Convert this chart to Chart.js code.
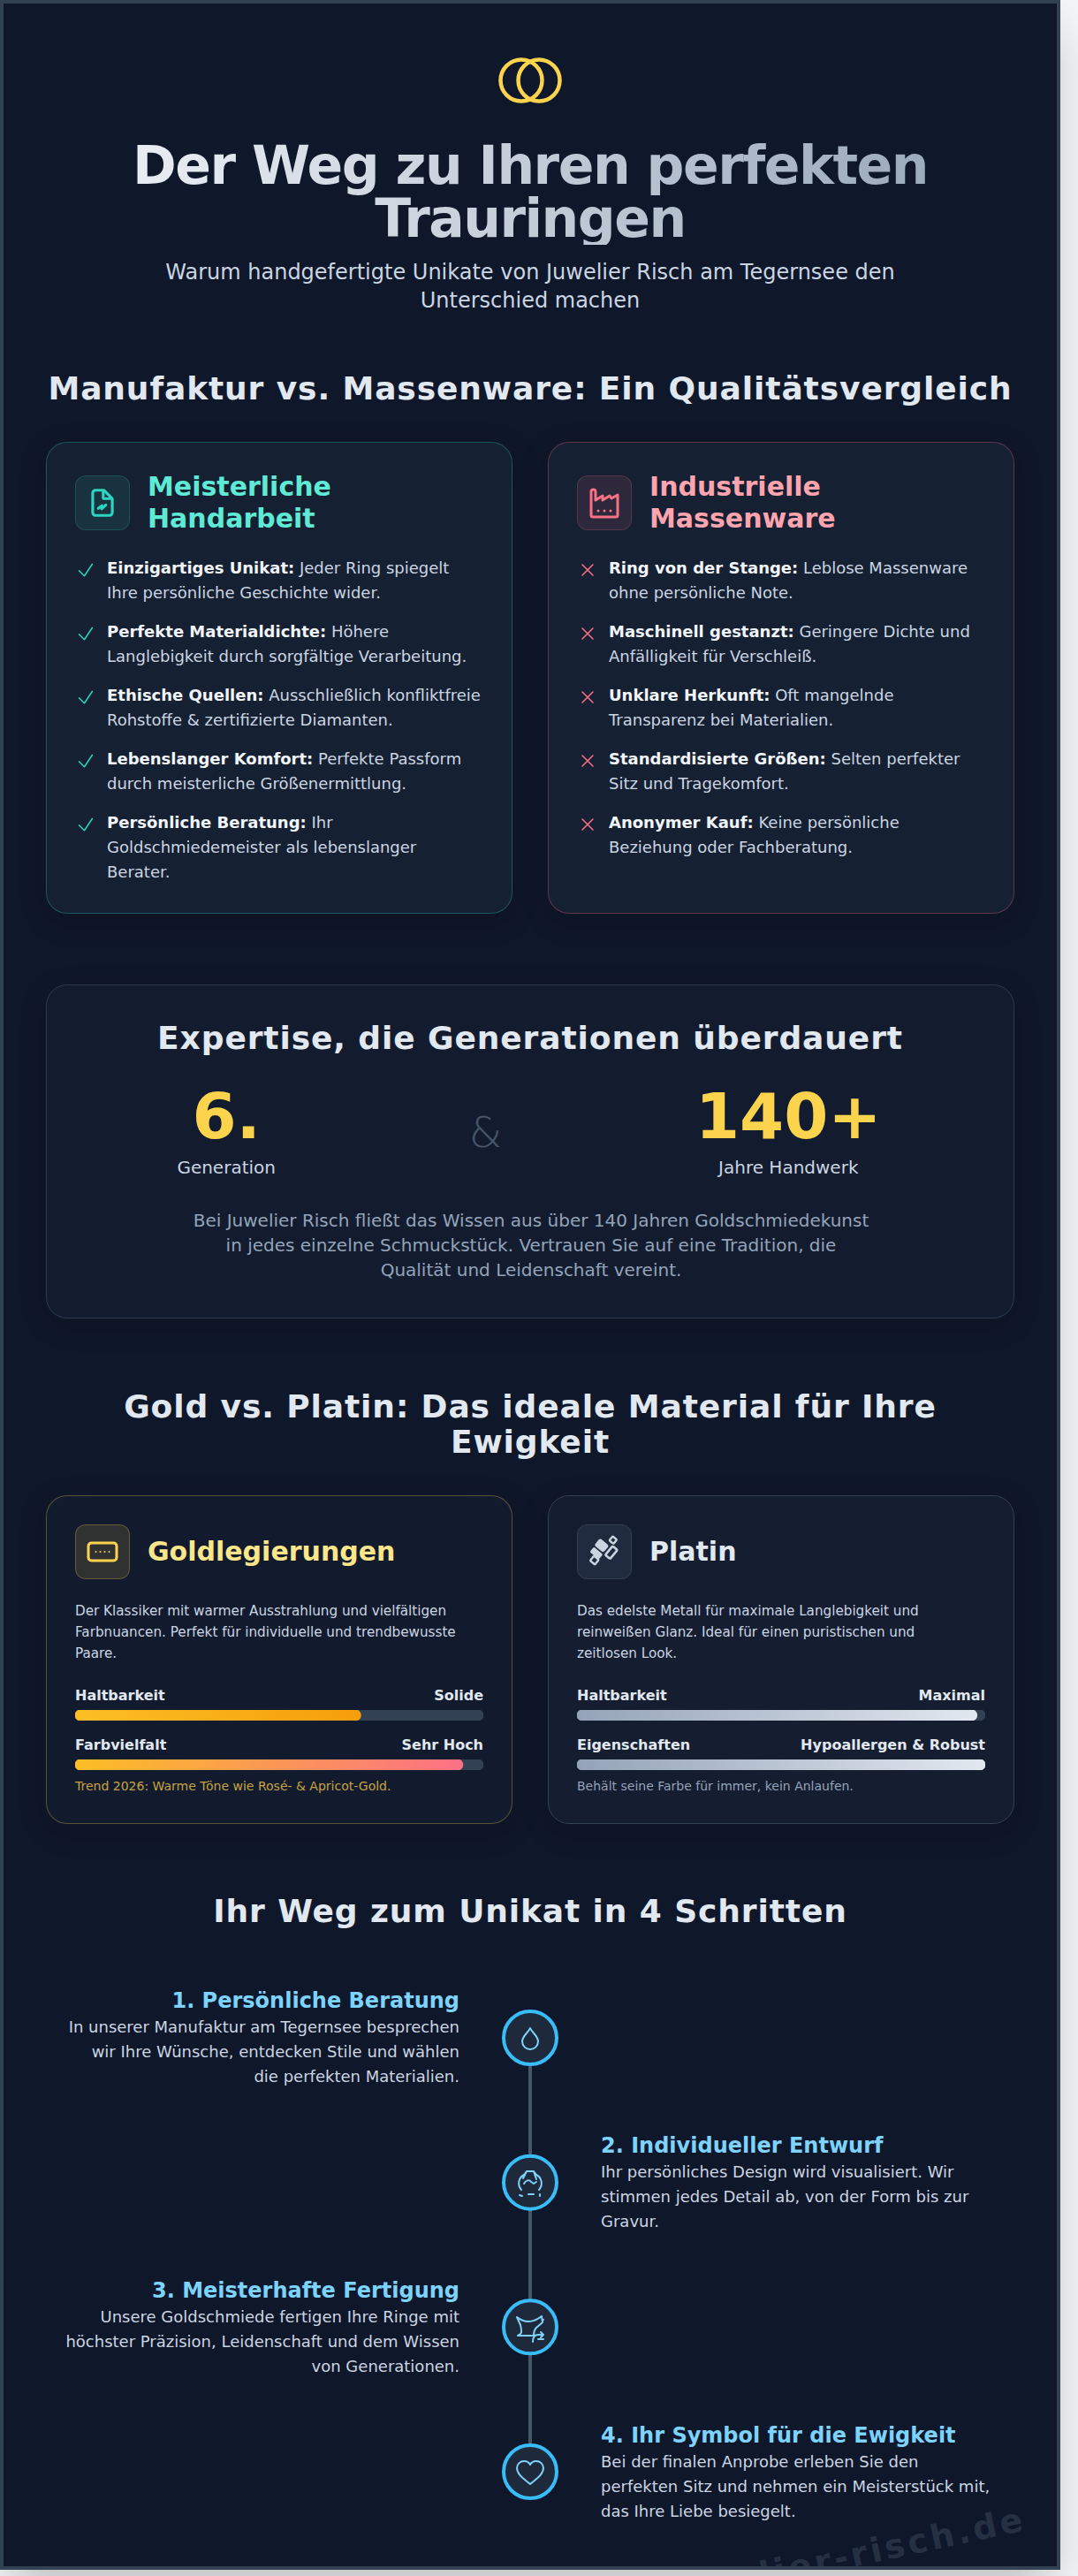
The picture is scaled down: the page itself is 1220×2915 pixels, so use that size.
<!DOCTYPE html>
<html lang="de"><head><meta charset="utf-8"><title>Der Weg zu Ihren perfekten Trauringen</title>
<script src="https://cdn.jsdelivr.net/npm/chart.js@4"></script>
<style>
*{box-sizing:border-box;margin:0;padding:0}
html,body{width:1220px;height:2915px;overflow:hidden;background:#f3f4f6;font-family:"DejaVu Sans",sans-serif}
#page{position:absolute;left:0;top:0;width:1200px;height:2908px;background:#0f172a;border:4px solid #334155;overflow:hidden;box-shadow:0 25px 50px -12px rgba(0,0,0,.25)}
.a{position:absolute;left:48px;width:1096px}
h1{font-size:60px;line-height:60px;font-weight:700;letter-spacing:-1.5px;text-align:center;color:transparent;background:linear-gradient(90deg,#f1f5f9,#94a3b8);-webkit-background-clip:text;background-clip:text}
.sub{font-size:24px;line-height:32px;color:#cbd5e1;text-align:center;width:896px;margin:0 auto}
h2{font-size:36px;line-height:40px;font-weight:700;color:#e2e8f0;text-align:center;letter-spacing:.9px}
.card{position:absolute;width:528px;border-radius:24px;border:1px solid;padding:32px;background:rgba(30,41,59,.5);box-shadow:0 8px 32px rgba(0,0,0,.2)}
.head{display:flex;align-items:center;margin-bottom:24px}
.ic{width:62px;height:62px;flex:none;border-radius:12px;border:1px solid;margin-right:20px;display:flex;align-items:center;justify-content:center}
.head h3{font-size:30px;line-height:36px;font-weight:700}
li{list-style:none;display:flex;font-size:18px;line-height:28px;color:#cbd5e1;margin-bottom:16px}
li svg{width:24px;height:24px;flex:none;margin:4px 12px 0 0;fill:none;stroke-width:1.5}
li b{color:#f1f5f9;font-weight:700}
.para{font-size:15.2px;line-height:24px;color:#cbd5e1;width:453.5px}
.rate{display:flex;justify-content:space-between;font-size:16px;line-height:24px;font-weight:700;color:#e2e8f0;margin-bottom:4px}
.bar{height:12px;width:462px;position:relative;margin-bottom:16px}
.note{font-size:14px;line-height:20px;margin-top:-8px}
.st{position:absolute;width:448px}
.st h4{font-size:24px;line-height:32px;font-weight:700;color:#7dd3fc}
.st p{font-size:18px;line-height:28px;color:#cbd5e1}
.nd{position:absolute;width:36px;height:36px;left:578px;fill:none;stroke:#7dd3fc;stroke-width:2;stroke-linecap:round;stroke-linejoin:round}
#wm{position:absolute;right:36px;top:2824px;font-size:38px;font-weight:700;letter-spacing:3.8px;color:rgba(71,85,105,.42);transform:rotate(-12deg);transform-origin:100% 50%;white-space:nowrap;line-height:44px}
</style></head><body>
<div id="page">
<svg class="a" style="left:548px;top:57px;width:96px;height:60px" viewBox="0 0 96 60" fill="none" stroke="#fcd34d" stroke-width="4.5"><circle cx="38" cy="30" r="23.5"/><circle cx="58" cy="30" r="23.5"/></svg>
<h1 class="a" style="top:153px">Der Weg zu Ihren perfekten Trauringen</h1>
<div class="a" style="top:288px"><div class="sub">Warum handgefertigte Unikate von Juwelier Risch am Tegernsee den Unterschied machen</div></div>
<h2 class="a" style="top:416px">Manufaktur vs. Massenware: Ein Qualitätsvergleich</h2>

<div class="card" style="left:48px;top:496px;height:534px;border-color:rgba(45,212,191,.3)">
 <div class="head"><div class="ic" style="background:rgba(45,212,191,.1);border-color:rgba(45,212,191,.2)"><svg width="38" height="38" viewBox="0 0 24 24" fill="none" stroke="#2dd4bf" stroke-width="2" stroke-linecap="round" stroke-linejoin="round"><path d="M7 21a2 2 0 0 1-2-2V5a2 2 0 0 1 2-2h5.6a1 1 0 0 1 .7.3l5.4 5.4a1 1 0 0 1 .3.7V19a2 2 0 0 1-2 2z"/><path d="M12.5 3.5V8a1 1 0 0 0 1 1h5"/><path d="M9 16l2.6-2-.2 2.4 3-2.9" /></svg></div><h3 style="color:#5eead4">Meisterliche Handarbeit</h3></div>
 <ul id="proList"></ul>
</div>
<div class="card" style="left:616px;top:496px;height:534px;border-color:rgba(251,113,133,.3)">
 <div class="head"><div class="ic" style="background:rgba(251,113,133,.1);border-color:rgba(251,113,133,.2)"><svg width="36" height="36" viewBox="0 0 36 36" fill="none" stroke="#fb7185" stroke-width="3" stroke-linecap="round" stroke-linejoin="round"><path d="M3 5.5a2.5 2.5 0 0 1 5 0V15l8-5v5l8-5 2 3 7-4v23a2 2 0 0 1-2 2H5a2 2 0 0 1-2-2z"/><path d="M11 27h.01M18 27h.01M25 27h.01"/></svg></div><h3 style="color:#fda4af">Industrielle Massenware</h3></div>
 <ul id="conList"></ul>
</div>

<div class="a" style="top:1110px;height:378px;border:1px solid #2c3a50;border-radius:24px;background:rgba(30,41,59,.3);box-shadow:0 8px 32px rgba(0,0,0,.15)">
 <h2 style="position:absolute;left:0;right:0;top:40px">Expertise, die Generationen überdauert</h2>
 <div style="position:absolute;left:38px;right:40px;top:112px;display:flex;justify-content:space-around;align-items:center;text-align:center">
  <div><div style="font-size:72px;line-height:72px;font-weight:700;color:#fcd34d">6.</div><div style="font-size:20px;line-height:28px;margin-top:8px;color:#cbd5e1">Generation</div></div>
  <div style="font-size:48px;line-height:48px;font-weight:200;color:#475569">&amp;</div>
  <div><div style="font-size:72px;line-height:72px;font-weight:700;color:#fcd34d">140+</div><div style="font-size:20px;line-height:28px;margin-top:8px;color:#cbd5e1">Jahre Handwerk</div></div>
 </div>
 <div style="position:absolute;left:164px;width:768px;top:252px;font-size:20px;line-height:28px;color:#94a3b8;text-align:center">Bei Juwelier Risch fließt das Wissen aus über 140 Jahren Goldschmiedekunst in jedes einzelne Schmuckstück. Vertrauen Sie auf eine Tradition, die Qualität und Leidenschaft vereint.</div>
</div>

<h2 class="a" style="top:1568px">Gold vs. Platin: Das ideale Material für Ihre Ewigkeit</h2>

<div class="card" style="left:48px;top:1688px;height:372px;border-color:rgba(252,211,77,.3);background:rgba(30,41,59,.28)">
 <div class="head"><div class="ic" style="background:rgba(252,211,77,.13);border-color:rgba(252,211,77,.25)"><svg width="36" height="36" viewBox="0 0 36 36" fill="none" stroke="#fcd34d" stroke-width="3" stroke-linecap="round"><rect x="2" y="8" width="32" height="20" rx="3.5"/><path d="M10.5 18h.01M15.5 18h.01M20.5 18h.01M25.5 18h.01" stroke-width="2"/></svg></div><h3 style="color:#fde68a">Goldlegierungen</h3></div>
 <div class="para">Der Klassiker mit warmer Ausstrahlung und vielfältigen Farbnuancen. Perfekt für individuelle und trendbewusste Paare.</div>
 <div id="goldBars" style="margin-top:24px"></div>
 <div class="note" style="color:#c9a13f">Trend 2026: Warme Töne wie Rosé- &amp; Apricot-Gold.</div>
</div>
<div class="card" style="left:616px;top:1688px;height:372px;border-color:#334155;background:rgba(30,41,59,.4)">
 <div class="head"><div class="ic" style="background:rgba(51,65,85,.4);border-color:rgba(71,85,105,.5)"><svg width="36" height="40" viewBox="0 0 36 40" fill="#cbd5e1" stroke="#cbd5e1" stroke-width="1.4" stroke-linejoin="round"><g transform="rotate(40 18 20)"><rect x="14" y="0.5" width="6" height="6" rx="1" fill="none" stroke-width="2.4"/><rect x="5" y="12" width="12" height="9" rx="2"/><rect x="21" y="9" width="7" height="13" rx="1.5" fill="none" stroke-width="2.6"/><rect x="6" y="24" width="12" height="6" rx="1"/><rect x="12" y="31" width="7" height="7" rx="1" fill="none" stroke-width="2.4"/></g></svg></div><h3 style="color:#e2e8f0">Platin</h3></div>
 <div class="para">Das edelste Metall für maximale Langlebigkeit und reinweißen Glanz. Ideal für einen puristischen und zeitlosen Look.</div>
 <div id="platinBars" style="margin-top:24px"></div>
 <div class="note" style="color:#94a3b8">Behält seine Farbe für immer, kein Anlaufen.</div>
</div>

<h2 class="a" style="top:2139px">Ihr Weg zum Unikat in 4 Schritten</h2>

<div style="position:absolute;left:556px;top:2268px;width:80px;height:559px"><canvas id="timeline"></canvas></div>
<svg class="nd" style="top:2284px" viewBox="0 0 36 36"><path d="M18 7c-2 5-9 9-9 15a9 9 0 0 0 18 0c0-6-7-10-9-15z"/></svg>
<svg class="nd" style="top:2448px" viewBox="0 0 36 36"><path d="M6 32l3 1M29 31v2M8 26c-5-6-3-14 3-17l3-4h8l3 4c6 3 8 11 3 17M11 19c2-4 6-5 8-2l3 2 3-2M22 5l3 9M14 5l-4 8M16 31h6"/></svg>
<svg class="nd" style="top:2612px" viewBox="0 0 36 36"><path d="M3 6c5 4 9 5 13 5 5 0 10-2 15-6l1 7-7 6c-2 2-3 6-3 9H4c2-1 4-2 4-4s0-5-1-8L3 6zM33 9h.01M21 34c0-6 3-8 6-8h6M30 23l3 3-3 3M33 31h-6"/></svg>
<svg class="nd" style="top:2776px" viewBox="0 0 36 36"><path d="M18 31C11 25 3 20 3 13c0-5 4-8 8-8 3 0 6 2 7 4 1-2 4-4 7-4 4 0 8 3 8 8 0 7-8 12-15 18z"/></svg>

<div class="st" style="left:68px;top:2244px;text-align:right"><h4>1. Persönliche Beratung</h4><p>In unserer Manufaktur am Tegernsee besprechen wir Ihre Wünsche, entdecken Stile und wählen die perfekten Materialien.</p></div>
<div class="st" style="left:676px;top:2408px"><h4>2. Individueller Entwurf</h4><p>Ihr persönliches Design wird visualisiert. Wir stimmen jedes Detail ab, von der Form bis zur Gravur.</p></div>
<div class="st" style="left:68px;top:2572px;text-align:right"><h4>3. Meisterhafte Fertigung</h4><p>Unsere Goldschmiede fertigen Ihre Ringe mit höchster Präzision, Leidenschaft und dem Wissen von Generationen.</p></div>
<div class="st" style="left:676px;top:2736px"><h4>4. Ihr Symbol für die Ewigkeit</h4><p>Bei der finalen Anprobe erleben Sie den perfekten Sitz und nehmen ein Meisterstück mit, das Ihre Liebe besiegelt.</p></div>

<div id="wm">juwelier-risch.de</div>
</div>
<script>
// ---------- chart data ----------
const goldLabels   = ['Haltbarkeit', 'Farbvielfalt'];
const goldRatings  = ['Solide', 'Sehr Hoch'];
const goldValues   = [70, 95];
const platinLabels  = ['Haltbarkeit', 'Eigenschaften'];
const platinRatings = ['Maximal', 'Hypoallergen & Robust'];
const platinValues  = [98, 100];
const scaleMax = 100;
const stepLabels = ['1. Persönliche Beratung', '2. Individueller Entwurf', '3. Meisterhafte Fertigung', '4. Ihr Symbol für die Ewigkeit'];
const stepTrack  = [0, 0, 0, 0];
const proItems = [
 ['Einzigartiges Unikat:', 'Jeder Ring spiegelt Ihre persönliche Geschichte wider.'],
 ['Perfekte Materialdichte:', 'Höhere Langlebigkeit durch sorgfältige Verarbeitung.'],
 ['Ethische Quellen:', 'Ausschließlich konfliktfreie Rohstoffe & zertifizierte Diamanten.'],
 ['Lebenslanger Komfort:', 'Perfekte Passform durch meisterliche Größenermittlung.'],
 ['Persönliche Beratung:', 'Ihr Goldschmiedemeister als lebenslanger Berater.']];
const conItems = [
 ['Ring von der Stange:', 'Leblose Massenware ohne persönliche Note.'],
 ['Maschinell gestanzt:', 'Geringere Dichte und Anfälligkeit für Verschleiß.'],
 ['Unklare Herkunft:', 'Oft mangelnde Transparenz bei Materialien.'],
 ['Standardisierte Größen:', 'Selten perfekter Sitz und Tragekomfort.'],
 ['Anonymer Kauf:', 'Keine persönliche Beziehung oder Fachberatung.']];
const goldGradients   = [['#fbbf24', '#f59e0b'], ['#fbbf24', '#fb7185']];
const platinGradients = [['#94a3b8', '#e2e8f0'], ['#94a3b8', '#e2e8f0']];
// ---------------------------------

function esc(s){return s.replace(/&/g,'&amp;')}
function fillList(id, items, stroke, path){
  document.getElementById(id).innerHTML = items.map(it =>
    `<li><svg viewBox="0 0 24 24" stroke="${stroke}" stroke-linecap="round" stroke-linejoin="round"><path d="${path}"/></svg><div><b>${it[0]}</b> ${esc(it[1])}</div></li>`).join('');
}
fillList('proList', proItems, '#2dd4bf', 'M4.5 12.75l6 6 9-13.5');
fillList('conList', conItems, '#fb7185', 'M6 18L18 6M6 6l12 12');

function bar(host, label, rating, value, grad){
  const row = document.createElement('div');
  row.className = 'rate';
  row.innerHTML = `<span>${label}</span><span>${esc(rating)}</span>`;
  const box = document.createElement('div');
  box.className = 'bar';
  const cv = document.createElement('canvas');
  box.appendChild(cv);
  host.append(row, box);
  new Chart(cv, {
    type: 'bar',
    data: { labels: [label], datasets: [
      { data: [value], borderRadius: 6, borderSkipped: false, borderWidth: 0,
        backgroundColor(c){
          const x = c.chart.scales.x;
          if (!x || !c.chart.chartArea) return grad[0];
          const x0 = x.getPixelForValue(0), x1 = x.getPixelForValue(value);
          if (!isFinite(x0) || !isFinite(x1)) return grad[0];
          const g = c.chart.ctx.createLinearGradient(x0, 0, x1, 0);
          g.addColorStop(0, grad[0]); g.addColorStop(1, grad[1]);
          return g;
        } },
      { data: [scaleMax], backgroundColor: '#334155', borderRadius: 6, borderSkipped: false, borderWidth: 0 }
    ]},
    options: {
      indexAxis: 'y', responsive: true, maintainAspectRatio: false, animation: false,
      datasets: { bar: { grouped: false, barPercentage: 1, categoryPercentage: 1 } },
      layout: { padding: 0 },
      plugins: { legend: { display: false }, tooltip: { enabled: false } },
      scales: {
        x: { display: false, min: 0, max: scaleMax },
        y: { display: false }
      }
    }
  });
}
goldLabels.forEach((l,i) => bar(document.getElementById('goldBars'), l, goldRatings[i], goldValues[i], goldGradients[i]));
platinLabels.forEach((l,i) => bar(document.getElementById('platinBars'), l, platinRatings[i], platinValues[i], platinGradients[i]));

new Chart(document.getElementById('timeline'), {
  type: 'line',
  data: { labels: stepLabels, datasets: [{
    data: stepTrack, borderColor: '#475569', borderWidth: 4,
    pointRadius: 30, pointBorderWidth: 4, pointBorderColor: '#38bdf8', pointBackgroundColor: '#1e293b', clip: false
  }]},
  options: {
    indexAxis: 'y', responsive: true, maintainAspectRatio: false, animation: false,
    layout: { padding: { top: 34, bottom: 30 } },
    plugins: { legend: { display: false }, tooltip: { enabled: false } },
    scales: { x: { display: false, min: -1, max: 1 }, y: { display: false, offset: false } }
  }
});
</script>
</body></html>
